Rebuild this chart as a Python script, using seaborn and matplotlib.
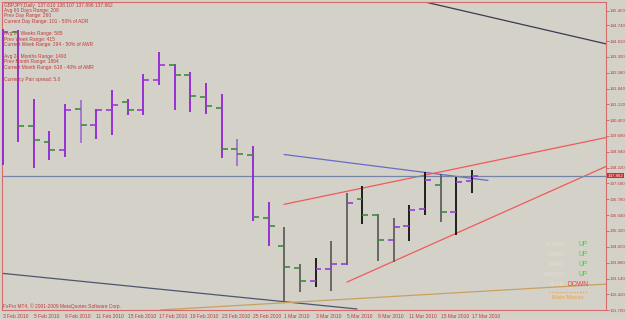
import matplotlib
matplotlib.use("Agg")
import matplotlib.pyplot as plt
import matplotlib.transforms as mtransforms
from matplotlib.lines import Line2D
import pandas as pd
import seaborn as sns

# GBPJPY daily bars
fechas = ["2010-02-03", "2010-02-04", "2010-02-05", "2010-02-08", "2010-02-09",
          "2010-02-10", "2010-02-11", "2010-02-12", "2010-02-15", "2010-02-16",
          "2010-02-17", "2010-02-18", "2010-02-19", "2010-02-22", "2010-02-23",
          "2010-02-24", "2010-02-25", "2010-02-26", "2010-03-01", "2010-03-02",
          "2010-03-03", "2010-03-04", "2010-03-05", "2010-03-08", "2010-03-09",
          "2010-03-10", "2010-03-11", "2010-03-12", "2010-03-15", "2010-03-16",
          "2010-03-17"]
aperturas = [140.422, 144.441, 140.148, 139.404, 139.052, 140.911, 140.194, 140.879,
             141.231, 140.879, 142.249, 142.902, 142.445, 141.459, 140.957, 139.098,
             138.824, 135.933, 134.636, 133.604, 133.011, 133.572, 133.801, 136.769,
             136.038, 134.897, 135.550, 136.312, 137.440, 136.189, 137.610]
maximos = [144.578, 144.532, 141.368, 139.888, 141.139, 141.336, 140.911, 141.792,
           141.368, 142.509, 143.514, 142.980, 142.601, 142.098, 141.596, 139.555,
           139.203, 136.664, 135.504, 133.801, 134.061, 134.865, 137.043, 137.376,
           136.084, 135.901, 136.495, 138.034, 137.911, 137.806, 138.107]
minimos = [138.322, 139.418, 138.217, 138.564, 138.719, 139.358, 139.555, 139.737,
           140.619, 140.619, 141.989, 140.879, 140.774, 140.696, 138.673, 138.290,
           135.764, 134.623, 132.052, 132.508, 132.764, 132.581, 133.755, 135.627,
           133.924, 133.906, 134.865, 136.052, 135.751, 135.125, 137.075]
cierres = [144.441, 140.148, 139.509, 139.020, 140.879, 140.180, 140.879, 141.075,
           140.879, 142.217, 142.902, 142.477, 141.486, 141.030, 139.098, 138.870,
           135.961, 135.550, 133.650, 133.038, 133.572, 133.787, 136.586, 136.038,
           134.929, 135.522, 136.280, 137.637, 136.207, 137.577, 137.862]
# body colour codes: P purple, L light purple, G gray, K black
cuerpos = ["P", "P", "P", "P", "P", "L", "P", "P", "P", "P", "P", "P", "P", "P", "P", "L",
           "P", "P", "G", "G", "K", "G", "G", "K", "G", "G", "K", "K", "G", "K", "K"]

# right axis labels as printed by MT4
precios_eje = [145.400, 144.740, 144.020, 143.300, 142.580, 141.840, 141.120, 140.400,
               139.680, 138.940, 138.220, 137.500, 136.780, 136.040, 135.320, 134.600,
               133.860, 133.140, 132.420, 131.700]

# drawn objects: two anchor points each (bar index, price)
lineas = {
    "arriba": ([27.0, 38.56], [145.811, 143.893]),
    "abajo": ([-0.16, 22.65], [133.390, 131.746]),
    "azul": ([17.99, 31.02], [138.824, 137.637]),
    "roja_sup": ([17.99, 38.56], [136.541, 139.600]),
    "roja_inf": ([22.01, 38.56], [132.979, 138.276]),
    "media": ([10.06, 38.56], [131.700, 132.887]),
}
colores_lineas = {"arriba": "#3a3a52", "abajo": "#4e5470", "azul": "#6a6ac4",
                  "roja_sup": "#f05a5a", "roja_inf": "#f05a5a", "media": "#c8a062"}

info = [
    (5, "GBPJPY,Daily  137.610 138.107 137.896 137.862"),
    (10.5, "Avg 60 Days Range: 208"),
    (16, "Prev Day Range: 260"),
    (21.5, "Current Day Range: 101 - 50% of ADR"),
    (33.5, "Avg 24 Weeks Range: 585"),
    (39, "Prev Week Range: 415"),
    (44.5, "Current Week Range: 294 - 50% of AWR"),
    (56.5, "Avg 24 Months Range: 1493"),
    (62, "Prev Month Range: 1864"),
    (67.5, "Current Month Range: 618 - 40% of AMR"),
    (80, "Currency Pair spread: 5.0"),
]
marcos = ["HOUR4", "DAILY", "WEEK", "MONTH", "YEAR"]
tendencias = ["UP", "UP", "UP", "UP", "DOWN"]

FONDO = "#d4d1c9"
ROJO = "#c23a3a"
MARCO = "#d46a6a"
colores_cuerpo = {"P": "#8f22d8", "L": "#a470d6", "G": "#5e5e5e", "K": "#111111"}

sns.set_style("white", rc={"axes.facecolor": FONDO, "figure.facecolor": FONDO})
plt.rcParams["font.family"] = ["Liberation Sans", "DejaVu Sans"]

W, H = 625, 319
fig = plt.figure(figsize=(W / 100, H / 100), dpi=100)
ax = fig.add_axes([2 / W, 9 / H, 604 / W, 308 / H])
ax.set_xlim(-0.032, 38.56)
ax.set_ylim(131.746, 145.811)

x = list(range(len(fechas)))
ax.vlines(x, minimos, maximos, colors=[colores_cuerpo[c] for c in cuerpos], lw=1.3, zorder=3)
col_tick = ["#9a3ad8" if c >= o else "#3c8c3c" for o, c in zip(aperturas, cierres)]
ax.hlines(aperturas, [i - 0.38 for i in x], x, colors=col_tick, lw=1.2, zorder=3)
ax.hlines(cierres, x, [i + 0.38 for i in x], colors=col_tick, lw=1.2, zorder=3)

filas = []
for nombre, (xs, ys) in lineas.items():
    for a, b in zip(xs, ys):
        filas.append({"linea": nombre, "barra": a, "precio": b})
df_lineas = pd.DataFrame(filas)
sns.lineplot(data=df_lineas, x="barra", y="precio", hue="linea", palette=colores_lineas,
             estimator=None, sort=False, legend=False, lw=0.9, ax=ax, zorder=2)
ax.axhline(cierres[-1], color="#7585a8", lw=0.9, zorder=2)

# axes styling
for s in ax.spines.values():
    s.set_color(MARCO)
    s.set_linewidth(0.8)
ax.yaxis.tick_right()
ax.set_yticks(precios_eje)
ax.set_yticklabels([f"{p:.3f}" for p in precios_eje])
ax.set_xticks(x[::2])
etiquetas = [pd.Timestamp(f).strftime("%d %b %Y").lstrip("0") for f in fechas[::2]]
ax.set_xticklabels(etiquetas, ha="left")
ax.tick_params(axis="both", colors=MARCO, labelcolor=ROJO, labelsize=3.6,
               length=2.2, width=0.7, direction="out", pad=0.6)
ax.tick_params(axis="y", labelsize=3.2, pad=0.5)
ax.set_xlabel("")
ax.set_ylabel("")

# current price box on the right axis
trans = mtransforms.blended_transform_factory(ax.transAxes, ax.transData)
ax.text(1.003, cierres[-1], f"{cierres[-1]:.3f}", transform=trans, fontsize=3.2,
        color="white", va="center", ha="left", clip_on=False, zorder=5,
        bbox=dict(boxstyle="square,pad=0.2", fc="#c83030", ec="none"))

# info text, top-left
for yp, t in info:
    fig.text(4 / W, 1 - yp / H, t, fontsize=3.5, color=ROJO, va="center", ha="left")
fig.text(3 / W, 1 - 306.5 / H, "FxPro MT4, \u00a9 2001-2009 MetaQuotes Software Corp.",
         fontsize=3.5, color=ROJO, va="center", ha="left")

# trend panel, bottom-right
for k, (m, t) in enumerate(zip(marcos, tendencias)):
    yp = 245 + 9.8 * k
    fig.text(565 / W, 1 - yp / H, m, fontsize=4.2, color="#e6dccf", va="center", ha="right")
    fig.text(588 / W, 1 - yp / H, t, fontsize=4.8,
             color="#36d836" if t == "UP" else "#f04040", va="center", ha="right")
fig.add_artist(Line2D([549 / W, 587 / W], [1 - 292 / H, 1 - 292 / H], color="#f0a040",
                      lw=0.8, ls=(0, (1, 1.5)), transform=fig.transFigure))
fig.text(568 / W, 1 - 297.5 / H, "Main Moves", fontsize=4.2, color="#f0a040",
         va="center", ha="center")

fig.savefig("out.png", dpi=100, facecolor=FONDO)
